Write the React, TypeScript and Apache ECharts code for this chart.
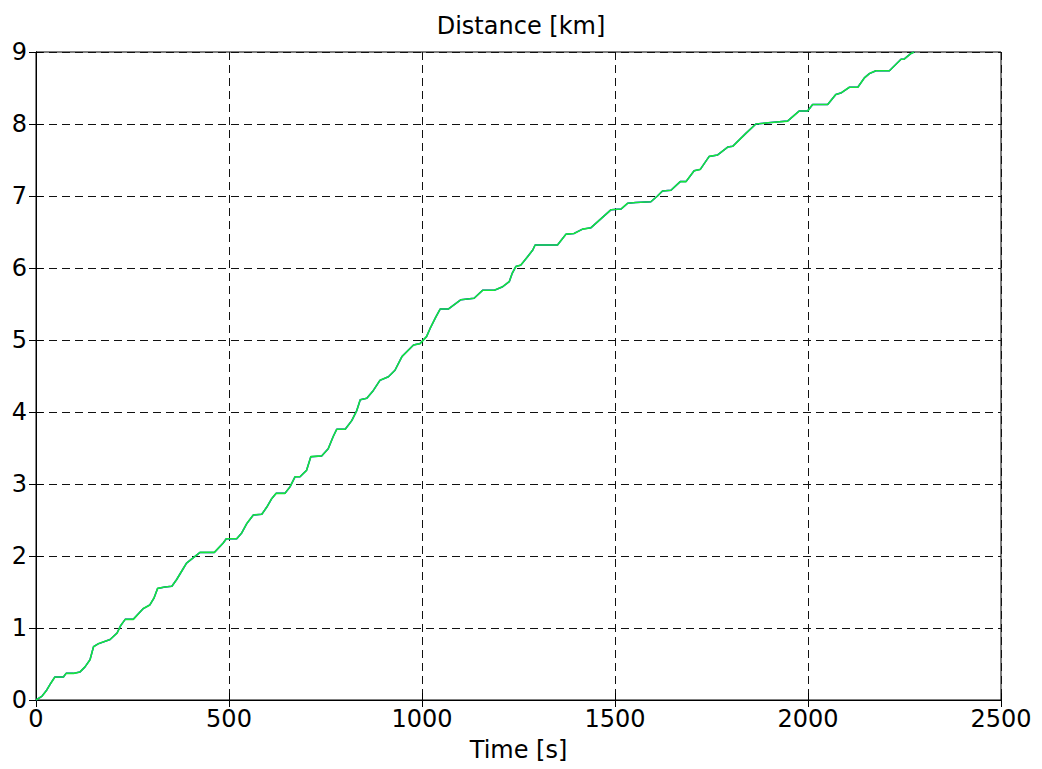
import React, { useEffect, useRef } from "react";
import * as echarts from "echarts";

// Elapsed time [s]
const timeS: number[] = [
  0, 15, 28, 38, 49, 71, 78, 97, 114, 127, 140, 149, 161, 192, 210, 219, 231, 252,
  278, 295, 306, 315, 334, 352, 364, 382, 390, 425, 462, 485, 493, 520, 533, 546,
  563, 585, 598, 611, 622, 645, 658, 671, 684, 701, 712, 740, 757, 770, 779, 801,
  818, 831, 840, 857, 874, 891, 913, 930, 948, 978, 995, 1012, 1021, 1036, 1047,
  1068, 1101, 1135, 1157, 1187, 1209, 1226, 1234, 1243, 1256, 1274, 1287, 1293,
  1351, 1373, 1394, 1416, 1438, 1490, 1516, 1533, 1554, 1593, 1610, 1623, 1645,
  1669, 1684, 1705, 1721, 1744, 1766, 1792, 1805, 1839, 1865, 1904, 1947, 1977,
  1999, 2012, 2051, 2072, 2085, 2107, 2129, 2146, 2159, 2176, 2211, 2241, 2249,
  2267, 2275,
];

// Travelled distance [km]
const distanceKm: number[] = [
  0, 0.05, 0.14, 0.23, 0.32, 0.32, 0.37, 0.37, 0.39, 0.46, 0.56, 0.74, 0.78, 0.84,
  0.93, 1.03, 1.12, 1.12, 1.27, 1.32, 1.42, 1.55, 1.57, 1.58, 1.67, 1.83, 1.9,
  2.05, 2.05, 2.18, 2.24, 2.24, 2.32, 2.45, 2.57, 2.58, 2.68, 2.8, 2.87, 2.87,
  2.96, 3.1, 3.1, 3.19, 3.38, 3.39, 3.49, 3.66, 3.76, 3.76, 3.88, 4.02, 4.17,
  4.19, 4.3, 4.44, 4.49, 4.58, 4.77, 4.93, 4.95, 5.05, 5.16, 5.32, 5.43, 5.43,
  5.56, 5.58, 5.69, 5.69, 5.74, 5.81, 5.93, 6.02, 6.04, 6.16, 6.25, 6.32, 6.32,
  6.47, 6.48, 6.54, 6.56, 6.81, 6.82, 6.9, 6.91, 6.92, 7.0, 7.07, 7.08, 7.2, 7.2,
  7.35, 7.37, 7.55, 7.57, 7.68, 7.69, 7.87, 8.0, 8.02, 8.04, 8.18, 8.18, 8.27,
  8.27, 8.41, 8.43, 8.51, 8.51, 8.64, 8.7, 8.74, 8.74, 8.9, 8.9, 8.98, 9.0,
];

const X_MIN = 0;
const X_MAX = 2500;
const X_STEP = 500;
const Y_MIN = 0;
const Y_MAX = 9;
const Y_STEP = 1;

const FONT = "'DejaVu Sans', 'Liberation Sans', Arial, sans-serif";
const FONT_SIZE = 24;

export default function App() {
  const ref = useRef<HTMLDivElement>(null);

  useEffect(() => {
    if (!ref.current) return;
    const chart = echarts.init(ref.current, undefined, { renderer: "svg" });
    const pts = timeS.map((t, i) => [t, distanceKm[i]]);

    const gridLine = {
      show: true,
      lineStyle: { color: "#111", width: 1, type: [8, 5] as number[] },
    };
    const tickIn = { show: true, inside: true, length: 7, lineStyle: { color: "#000" } };
    const plain = (v: number) => String(v);

    chart.setOption({
      animation: false,
      backgroundColor: "#fff",
      title: {
        text: "Distance [km]",
        left: 516,
        textAlign: "center",
        top: 9,
        textStyle: { fontFamily: FONT, fontSize: FONT_SIZE, fontWeight: "normal", color: "#000" },
      },
      grid: {
        left: 36,
        right: 41,
        top: 52,
        bottom: 69,
        show: true,
        borderColor: "#000",
        borderWidth: 1,
      },
      xAxis: [
        {
          type: "value",
          min: X_MIN,
          max: X_MAX,
          interval: X_STEP,
          position: "bottom",
          name: "Time [s]",
          nameLocation: "middle",
          nameGap: 38,
          nameTextStyle: { fontFamily: FONT, fontSize: FONT_SIZE, color: "#000" },
          axisLine: { show: true, lineStyle: { color: "#000", width: 1 } },
          axisTick: tickIn,
          axisLabel: { fontFamily: FONT, fontSize: FONT_SIZE, color: "#000", margin: 7, formatter: plain },
          splitLine: gridLine,
        },
        {
          type: "value",
          min: X_MIN,
          max: X_MAX,
          interval: X_STEP,
          position: "top",
          axisLine: { show: true, lineStyle: { color: "#000", width: 1 } },
          axisTick: tickIn,
          axisLabel: { show: false },
          splitLine: { show: false },
        },
      ],
      yAxis: [
        {
          type: "value",
          min: Y_MIN,
          max: Y_MAX,
          interval: Y_STEP,
          position: "left",
          axisLine: { show: true, lineStyle: { color: "#000", width: 1 } },
          axisTick: tickIn,
          axisLabel: { fontFamily: FONT, fontSize: FONT_SIZE, color: "#000", margin: 9, formatter: plain },
          splitLine: gridLine,
        },
        {
          type: "value",
          min: Y_MIN,
          max: Y_MAX,
          interval: Y_STEP,
          position: "right",
          axisLine: { show: true, lineStyle: { color: "#000", width: 1 } },
          axisTick: tickIn,
          axisLabel: { show: false },
          splitLine: { show: false },
        },
      ],
      series: [
        {
          name: "measured",
          type: "line",
          data: pts,
          showSymbol: false,
          symbol: "none",
          lineStyle: { color: "#0000ff", width: 1.5 },
          z: 2,
        },
        {
          name: "estimated",
          type: "line",
          data: pts,
          showSymbol: false,
          symbol: "none",
          lineStyle: { color: "#14e83a", width: 1.6 },
          z: 3,
        },
      ],
    });

    return () => chart.dispose();
  }, []);

  return (
    <div
      ref={ref}
      style={{ position: "fixed", left: 0, top: 0, width: 1042, height: 769, background: "#fff" }}
    />
  );
}
